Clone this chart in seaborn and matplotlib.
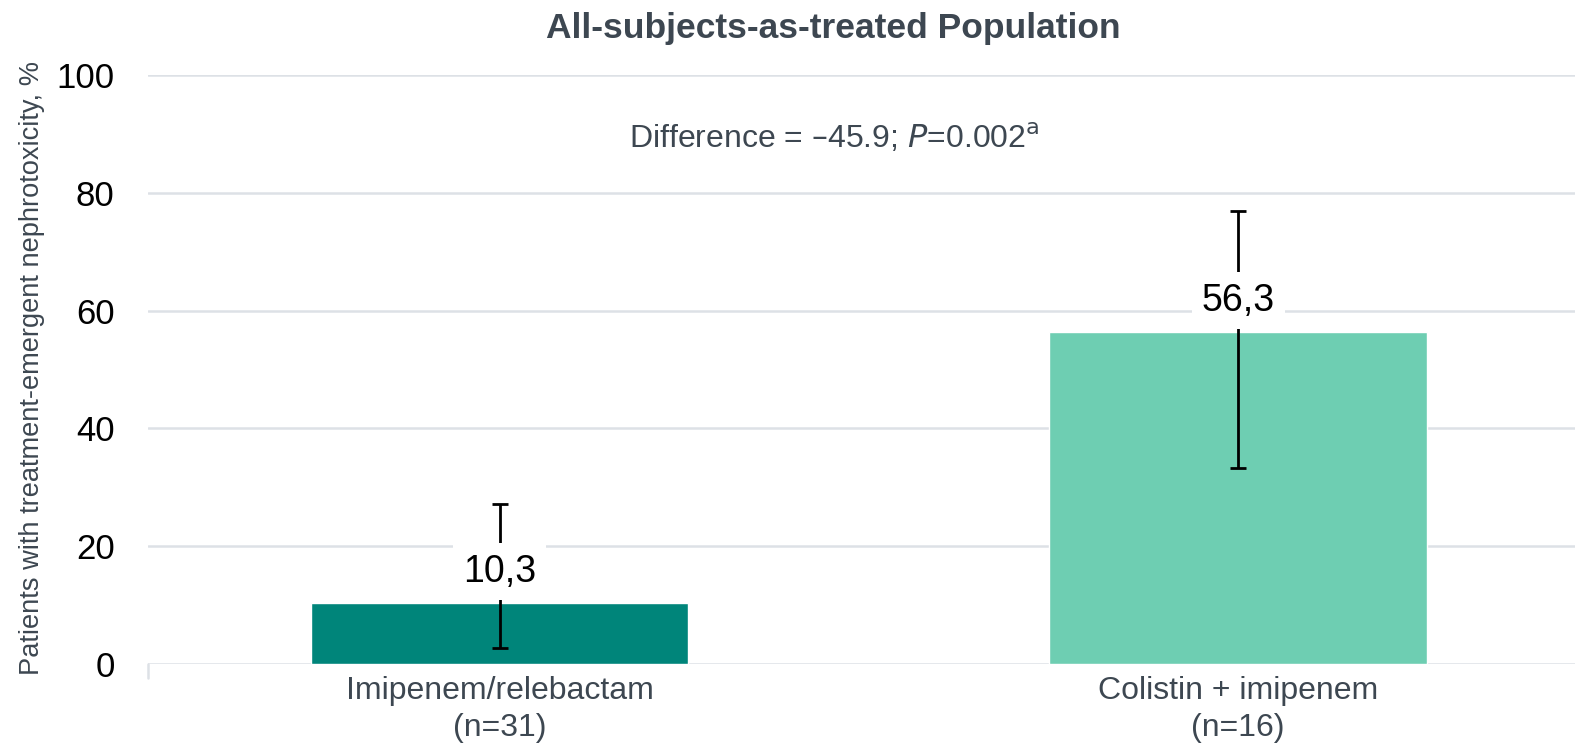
import matplotlib
matplotlib.use("Agg")
import matplotlib.pyplot as plt
import seaborn as sns
import pandas as pd

# Treatment arms and nephrotoxicity rates (%)
arms = ["Imipenem/relebactam\n(n=31)", "Colistin + imipenem\n(n=16)"]
rates = [10.3, 56.3]
ci_low = [2.8, 33.2]
ci_high = [27.2, 76.9]
rate_labels = ["10,3", "56,3"]
y_ticks = [0, 20, 40, 60, 80, 100]

bar_colors = ["#00857A", "#6ECEB2"]
text_gray = "#3D4751"
grid_gray = "#DDE1E6"

sns.set_theme(style="white")
plt.rcParams["font.family"] = ["Liberation Sans", "DejaVu Sans"]

fig = plt.figure(figsize=(15.75, 7.53), dpi=100)
ax = fig.add_axes([148 / 1575, (753 - 664) / 753, 1 - 148 / 1575, (664 - 75) / 753])

df = pd.DataFrame({"arm": arms, "rate": rates})
sns.barplot(data=df, x="arm", y="rate", hue="arm", palette=bar_colors,
            width=0.511, legend=False, ax=ax, saturation=1, zorder=2)

# 95% CI whiskers with value labels boxed over them
for i, (r, lo, hi) in enumerate(zip(rates, ci_low, ci_high)):
    ax.errorbar(i, r, yerr=[[r - lo], [hi - r]], fmt="none", ecolor="black",
                elinewidth=2, capsize=6, capthick=2, zorder=3)
    ax.text(i, r + 5.4, rate_labels[i], ha="center", va="center",
            fontsize=27, color="black", zorder=4,
            bbox=dict(boxstyle="square,pad=0.27", fc="white", ec="none"))

ax.set_ylim(0, 100)
ax.set_xlim(-0.476, 1.456)
ax.set_yticks(y_ticks)
ax.yaxis.grid(True, color=grid_gray, linewidth=1.8, zorder=0)
ax.set_axisbelow(True)
for s in ax.spines.values():
    s.set_visible(False)
ax.tick_params(axis="y", length=0, pad=24, labelsize=25, labelcolor="black")
ax.tick_params(axis="x", length=0, pad=9)
for lab in ax.get_xticklabels():
    lab.set_fontsize(23)
    lab.set_color(text_gray)
    lab.set_linespacing(1.3)
ax.set_xlabel("")
ax.set_ylabel("")
ax.plot([0, 0], [0, -0.024], transform=ax.transAxes, color=grid_gray,
        linewidth=1.8, clip_on=False)

fig.text(0.529, 0.962, "All-subjects-as-treated Population", ha="center",
         va="center", fontsize=25.5, fontweight="bold", color=text_gray)
fig.text(834 / 1575, 1 - 138 / 753,
         r"Difference = –45.9; $\mathit{P}$=0.002$^{\mathrm{a}}$",
         ha="center", va="center", fontsize=23, color=text_gray)
fig.text(32 / 1575, 1 - 368 / 753,
         "Patients with treatment-emergent nephrotoxicity, %", rotation=90,
         ha="center", va="center", fontsize=19.6, color=text_gray)

fig.savefig("out.png", dpi=100)
